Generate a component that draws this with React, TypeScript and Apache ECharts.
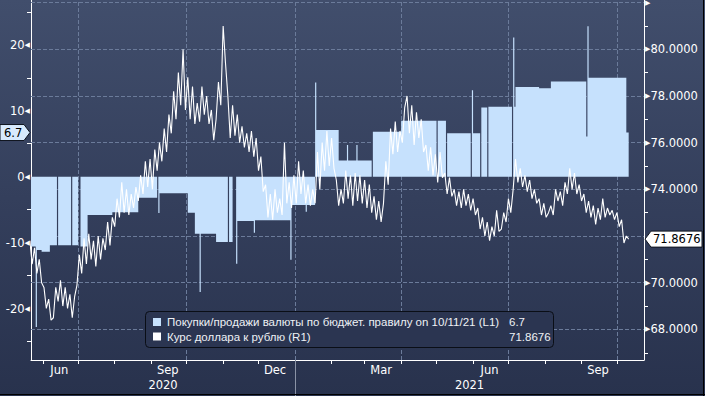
import React, { useEffect, useRef } from 'react';
import * as echarts from 'echarts';

const W = 705;
const H = 396;
const FONT = 'DejaVu Sans';
const LEGEND_FONT = 'Liberation Sans';

// ---- Budget-rule FX purchases (+) / sales (-), bln RUB per day (L1). Step series: value holds until next date.
const fxDates = [
  '2020-05-21', '2020-05-26', '2020-05-27', '2020-05-31', '2020-06-07', '2020-06-13', '2020-06-14',
  '2020-06-25', '2020-06-26', '2020-07-01', '2020-07-03', '2020-07-09', '2020-07-30', '2020-08-21',
  '2020-09-06', '2020-09-07', '2020-09-08', '2020-10-02', '2020-10-08', '2020-10-12', '2020-10-13',
  '2020-10-26', '2020-11-05', '2020-11-06', '2020-11-09', '2020-11-12', '2020-11-13', '2020-11-27',
  '2020-11-28', '2020-12-28', '2020-12-29', '2021-01-10', '2021-01-11', '2021-01-18', '2021-01-19',
  '2021-02-07', '2021-02-14', '2021-02-15', '2021-02-22', '2021-02-23', '2021-03-07', '2021-03-08',
  '2021-04-01', '2021-05-01', '2021-05-02', '2021-05-09', '2021-05-10', '2021-05-30', '2021-05-31',
  '2021-06-01', '2021-06-07', '2021-06-08', '2021-06-13', '2021-06-14', '2021-07-04', '2021-07-05',
  '2021-07-06', '2021-07-07', '2021-07-27', '2021-08-06', '2021-09-05', '2021-09-06', '2021-09-07',
  '2021-10-09', '2021-10-11',
];
const fxValues = [
  -10.6, -22.8, -11.1, -11.4, -10.4, 0, -10.4,
  0, -10.4, 0, -10.6, -5.8, -5.4, -3.2,
  0, -5.5, -2.5, -5.45, -8.65, -17.5, -8.65,
  -9.9, 0, -9.9, 0, -13.2, -6.7, -8.5,
  -6.6, -12.6, -4.3, -5.3, -4.3, 14.3, 7.1,
  2.45, 4.8, 2.45, 4.8, 2.45, 0, 6.8,
  8.5, 0, 8.5, 0, 6.6, 0, 13.1,
  6.6, 0, 10.5, 0, 10.6, 0, 21.1,
  10.6, 13.6, 13.4, 14.45, 6.1, 22.8, 15.0,
  6.7, 6.7,
];

// ---- USD/RUB (R1), one reading every 2 days starting 2020-05-21
const usdStart = '2020-05-21';
const usdStepDays = 2;
const usd2020 = [
  71.8, 70.8, 71.5, 70.4, 71.0, 70.0, 69.8, 68.9, 69.3, 68.4,
  68.5, 69.8, 69.2, 70.1, 69.0, 69.8, 68.9, 69.5, 68.5, 69.4,
  69.9, 71.2, 70.4, 71.9, 70.8, 72.1, 71.0, 71.8, 70.7, 72.0,
  71.0, 71.9, 71.4, 72.6, 71.6, 72.8, 72.4, 73.6, 72.8, 74.3,
  73.0, 74.0, 72.9, 73.8, 73.2, 74.1, 73.5, 74.6, 73.8, 75.2,
  74.1, 75.3, 74.0, 75.7, 74.8, 76.0, 75.2, 76.6, 75.6, 77.2,
  76.4, 78.2, 77.0, 79.0, 77.6, 80.0, 77.4, 78.8, 77.0, 78.4,
  76.8, 77.7, 76.9, 78.4, 77.2, 78.0, 76.8, 77.4, 76.1, 77.0,
  78.6, 77.6, 81.0, 79.4, 78.0, 76.2, 77.6, 76.3, 77.2, 76.0,
  76.7, 75.8, 76.4, 75.6, 76.5, 75.4, 76.2, 74.8, 75.4, 73.9,
  74.2, 72.8, 73.8, 72.7, 74.0, 73.0, 73.6, 72.9, 76.0, 73.4,
  74.3, 73.2, 74.6, 73.4, 75.2, 73.8, 74.8, 73.4, 74.2, 73.3,
];
const usd2021 = [
  74.0, 73.4, 75.6, 74.0, 76.0, 74.8, 76.5, 75.0, 76.2, 74.9,
  74.4, 73.3, 74.0, 73.4, 74.8, 73.6, 74.6, 73.3, 74.7, 73.5,
  74.6, 73.4, 74.4, 73.2, 74.2, 73.0, 73.7, 72.7, 73.5, 72.6,
  73.4, 75.2, 74.2, 76.6, 75.5, 76.9, 75.6, 76.5, 76.0, 77.5,
  78.0, 76.4, 77.6, 75.9, 77.3, 76.2, 77.0, 75.6, 75.9, 74.8,
  75.8, 74.6, 75.5, 74.3, 75.6, 74.5, 74.7, 73.8, 74.5, 73.7,
  74.0, 73.3, 73.9, 73.2, 74.0, 73.3, 73.8, 73.1, 73.6, 72.9,
  73.2, 72.3, 72.8, 72.0, 72.6, 71.8, 72.4, 72.0, 73.1, 72.2,
  72.3, 73.0, 72.6, 73.6, 73.0, 74.0, 75.3, 74.3, 74.9, 74.1,
  74.6, 73.9, 74.4, 73.6, 74.0, 73.4, 73.6, 72.9, 73.4, 72.8,
  73.0, 73.3, 72.9, 74.0, 73.5, 73.9, 73.3, 74.3, 73.8, 74.9,
  74.0, 74.7, 73.8, 74.2, 73.5, 73.8, 73.0, 73.5, 72.8, 73.3,
  72.5, 73.2, 72.7, 73.6, 72.8, 73.2, 72.9, 73.1, 72.7, 73.0,
  72.4, 72.7, 71.7, 72.0, 71.8676,
];

// ---- Axes text
const axisRangeDates = ['2020-05-22', '2021-10-24'];
const monthLabels = ['Jun', 'Sep', 'Dec', 'Mar', 'Jun', 'Sep'];
const monthLabelDates = ['2020-06-15', '2020-09-15', '2020-12-15', '2021-03-15', '2021-06-15', '2021-09-15'];
const monthTickDates = [
  '2020-06-01', '2020-07-01', '2020-08-01', '2020-09-01', '2020-10-01', '2020-11-01', '2020-12-01',
  '2021-01-01', '2021-02-01', '2021-03-01', '2021-04-01', '2021-05-01', '2021-06-01', '2021-07-01',
  '2021-08-01', '2021-09-01', '2021-10-01',
];
const quarterDates = ['2020-07-01', '2020-10-01', '2021-01-01', '2021-04-01', '2021-07-01', '2021-10-01'];
const yearLabels = ['2020', '2021'];
const yearBreak = '2021-01-01';
const leftRange = [-27.8, 26.8];
const leftLabels = [-20, -10, 0, 10, 20];
const leftMinor = [-25, -15, -5, 5, 15, 25];
const rightRange = [66.69, 82.11];
const rightLabels = [68, 70, 72, 74, 76, 78, 80, 82];
const rightMinor = [67, 69, 71, 73, 75, 77, 79, 81];

const seriesNames = ['Покупки/продажи валюты по бюджет. правилу on 10/11/21 (L1)', 'Курс доллара к рублю (R1)'];
const lastFx = 6.7;
const lastUsd = 71.8676;
const lastFxText = '6.7';
const lastUsdText = '71.8676';

const DAY = 86400000;
const t = (s: string) => {
  const [y, m, d] = s.split('-').map(Number);
  return Date.UTC(y, m - 1, d);
};

const BAR_COLOR = '#c6e1fd';
const GRID_COLOR = '#6b7b9a';

export default function App() {
  const ref = useRef<HTMLDivElement>(null);
  useEffect(() => {
    const el = ref.current;
    if (!el) return;
    const chart = echarts.init(el, null, { renderer: 'svg', width: W, height: H });

    const xMin = t(axisRangeDates[0]);
    const xMax = t(axisRangeDates[1]);
    const usdAll = usd2020.concat(usd2021);
    const usdData = usdAll.map((v, i) => [t(usdStart) + i * usdStepDays * DAY, v]);
    const fxData = fxDates.map((d, i) => [t(d), fxValues[i]]);
    const labelTs = monthLabelDates.map(t);
    const yb = t(yearBreak);
    const yearMid = [(xMin + yb) / 2, (yb + xMax) / 2];

    const tri = { fontSize: 7, color: '#ffffff', fontFamily: FONT };
    const txt = { fontSize: 11.5, color: '#ffffff', fontFamily: FONT };

    const option: any = {
      animation: false,
      backgroundColor: 'transparent',
      grid: { left: 31, right: 61, top: 0, bottom: 36, containLabel: false, outerBoundsMode: 'none' },
      xAxis: [
        {
          type: 'value', min: xMin, max: xMax, position: 'bottom', scale: true,
          axisLine: { show: true, onZero: false, lineStyle: { color: '#ffffff', width: 1 } },
          axisTick: { show: true, customValues: monthTickDates.map(t), length: 4, lineStyle: { color: '#ffffff' } },
          axisLabel: {
            show: true, customValues: labelTs, margin: 4, color: '#ffffff', fontFamily: FONT, fontSize: 11.5,
            hideOverlap: false, showMinLabel: true, showMaxLabel: true,
            formatter: (v: number) => {
              let best = 0;
              labelTs.forEach((lt, i) => { if (Math.abs(lt - v) < Math.abs(labelTs[best] - v)) best = i; });
              return monthLabels[best];
            },
          },
          splitLine: { show: false },
        },
        {
          type: 'value', min: xMin, max: xMax, position: 'bottom', scale: true,
          axisLine: { show: false, onZero: false },
          axisTick: { show: false },
          axisLabel: {
            show: true, customValues: yearMid, margin: 19, color: '#ffffff', fontFamily: FONT, fontSize: 11.5,
            hideOverlap: false,
            formatter: (v: number) => (v < yb ? yearLabels[0] : yearLabels[1]),
          },
          splitLine: { show: false },
        },
        {
          type: 'value', min: xMin, max: xMax, position: 'bottom', scale: true,
          axisLine: { show: false, onZero: false },
          axisTick: { show: true, customValues: [yb], length: 36, lineStyle: { color: '#8a93a6', width: 1 } },
          axisLabel: { show: false },
          splitLine: { show: false },
        },
      ],
      yAxis: [
        {
          type: 'value', position: 'left', min: leftRange[0], max: leftRange[1],
          axisLine: { show: true, onZero: false, lineStyle: { color: '#ffffff', width: 1 } },
          axisTick: { show: true, customValues: leftMinor, length: 4, lineStyle: { color: '#ffffff' } },
          axisLabel: {
            show: true, customValues: leftLabels, margin: 1, hideOverlap: false,
            formatter: (v: number) => `{v|${v}}{t|◀}`,
            rich: { v: txt, t: tri },
          },
          splitLine: { show: false },
        },
        {
          type: 'value', position: 'right', min: rightRange[0], max: rightRange[1],
          axisLine: { show: true, onZero: false, lineStyle: { color: '#ffffff', width: 1 } },
          axisTick: { show: true, customValues: rightMinor, length: 4, lineStyle: { color: '#ffffff' } },
          axisLabel: {
            show: true, customValues: rightLabels, margin: 1, hideOverlap: false,
            formatter: (v: number) => (v === 82 ? '{t|▶}' : v === 72 ? '' : `{t|▶}{v|${v.toFixed(4)}}`),
            rich: { v: txt, t: tri },
          },
          splitLine: { show: false },
        },
      ],
      series: [
        {
          name: seriesNames[0], type: 'line', xAxisIndex: 0, yAxisIndex: 0, step: 'end',
          data: fxData, symbol: 'none', showSymbol: false,
          lineStyle: { width: 0, opacity: 0 },
          areaStyle: { color: BAR_COLOR, opacity: 1 },
          z: 2,
        },
        {
          name: seriesNames[1], type: 'line', xAxisIndex: 0, yAxisIndex: 1,
          data: usdData, symbol: 'none', showSymbol: false,
          lineStyle: { color: '#ffffff', width: 1.1 },
          z: 3,
          markLine: {
            z: 1, silent: true, symbol: ['none', 'none'], label: { show: false },
            lineStyle: { color: GRID_COLOR, type: 'dashed', width: 1, opacity: 1 },
            emphasis: { disabled: true },
            data: [
              ...rightLabels.map((v) => ({ yAxis: v })),
              ...quarterDates.map((d) => ({ xAxis: t(d) })),
            ],
          },
        },
      ],
    };
    chart.setOption(option);

    const yL = chart.convertToPixel({ yAxisIndex: 0 }, lastFx) as number;
    const yR = chart.convertToPixel({ yAxisIndex: 1 }, lastUsd) as number;

    const legendText = { fill: '#eef1f5', fontFamily: LEGEND_FONT, fontSize: 11.5, verticalAlign: 'middle' };
    chart.setOption({
      graphic: [
        {
          type: 'polygon', z: 50,
          shape: { points: [[0, yL - 8], [24, yL - 8], [30, yL], [24, yL + 8], [0, yL + 8]] },
          style: { fill: '#d8eafd', stroke: '#10151f', lineWidth: 1 },
        },
        {
          type: 'text', z: 51, x: 4, y: yL,
          style: { text: lastFxText, fill: '#000000', fontFamily: FONT, fontSize: 11.5, verticalAlign: 'middle' },
        },
        {
          type: 'polygon', z: 50,
          shape: { points: [[645, yR], [651, yR - 8], [702, yR - 8], [702, yR + 8], [651, yR + 8]] },
          style: { fill: '#ffffff', stroke: '#10151f', lineWidth: 1 },
        },
        {
          type: 'text', z: 51, x: 653, y: yR,
          style: { text: lastUsdText, fill: '#000000', fontFamily: FONT, fontSize: 11.5, verticalAlign: 'middle' },
        },
        {
          type: 'rect', z: 50,
          shape: { x: 145.5, y: 311.5, width: 408, height: 36, r: 4 },
          style: { fill: '#2b3551', stroke: '#0a0e16', lineWidth: 1 },
        },
        { type: 'rect', z: 51, shape: { x: 153, y: 318, width: 8, height: 8 }, style: { fill: BAR_COLOR } },
        { type: 'rect', z: 51, shape: { x: 153, y: 332.5, width: 8, height: 8 }, style: { fill: '#ffffff' } },
        { type: 'text', z: 51, x: 167, y: 322, style: { ...legendText, text: seriesNames[0] } },
        { type: 'text', z: 51, x: 167, y: 337, style: { ...legendText, text: seriesNames[1] } },
        { type: 'text', z: 51, x: 509, y: 322, style: { ...legendText, text: lastFxText } },
        { type: 'text', z: 51, x: 509, y: 337, style: { ...legendText, text: lastUsdText } },
        { type: 'line', z: 60, shape: { x1: 703.5, y1: 0, x2: 703.5, y2: 396 }, style: { stroke: '#000000', lineWidth: 1 } },
        { type: 'line', z: 60, shape: { x1: 0, y1: 394.5, x2: 705, y2: 394.5 }, style: { stroke: '#000000', lineWidth: 1 } },
      ],
    });

    return () => chart.dispose();
  }, []);

  return (
    <div
      ref={ref}
      style={{
        position: 'absolute', left: 0, top: 0, width: W, height: H,
        background: 'linear-gradient(180deg, #414e6c 0%, #343f5c 50%, #28324d 100%)',
      }}
    />
  );
}
